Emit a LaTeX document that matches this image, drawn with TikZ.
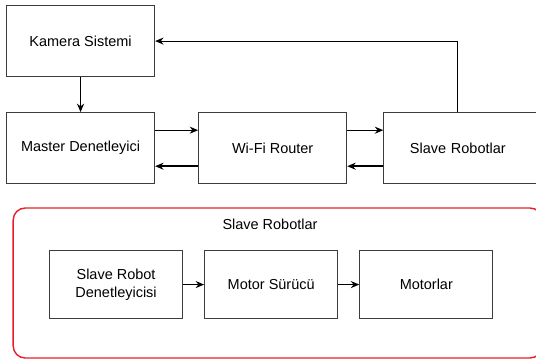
\documentclass[tikz,border=0pt]{standalone}
\usepackage{fontspec}
\setmainfont{Liberation Sans}
\usepackage{xcolor}
\usepackage{tikz}
\usetikzlibrary{arrows.meta, positioning}
\definecolor{edgegray}{RGB}{60, 60, 60}
\definecolor{framered}{RGB}{230, 30, 40}

\begin{document}
\begin{tikzpicture}[
      box/.style={
        rectangle, minimum width=3.7cm, minimum height=1.775cm,
        draw=edgegray, line width=0.8pt, font=\fontsize{10.3}{12.5}\selectfont, text=black,
        align=center, inner sep=2pt
      },
      subbox/.style={box, minimum width=3.325cm, minimum height=1.7cm},
      arr/.style={-{Stealth[length=6pt, width=5pt]}, line width=0.7pt, color=black},
      barr/.style={arr, line width=1.1pt}
  ]
    \useasboundingbox (0,0) rectangle (13.4,-9.025);

    \node[box, anchor=north west] (kam) at (0.15,-0.125) {Kamera Sistemi};
    \node[box] (mas)  [below=0.875cm of kam] {Master Denetleyici};
    \node[box] (wifi) [right=1.075cm of mas] {Wi-Fi Router};
    \node[box, minimum width=4.3cm, text width=3.3cm] (slv) [right=0.9cm of wifi] {Slave Robotlar\hspace*{0.6cm}};

    \draw[barr] (kam) -- (mas);
    \draw[arr]  ([yshift=0.45cm]mas.east)   -- ([yshift=0.45cm]wifi.west);
    \draw[barr] ([yshift=-0.45cm]wifi.west) -- ([yshift=-0.45cm]mas.east);
    \draw[arr]  ([yshift=0.45cm]wifi.east)  -- ([yshift=0.45cm]slv.west);
    \draw[barr] ([yshift=-0.45cm]slv.west)  -- ([yshift=-0.45cm]wifi.east);
    \draw[arr]  ([xshift=1.85cm]slv.north west) |- (kam.east);

    % slave robot detay
    \draw[framered, line width=1pt, rounded corners=0.3cm]
      (0.33,-5.2) rectangle (13.55,-8.95);
    \node[font=\fontsize{10.3}{12.5}\selectfont] (ttl) at (6.75,-5.62) {Slave Robotlar};

    \node[subbox, anchor=north west] (srd) at (1.225,-6.25) {Slave Robot\\Denetleyicisi};
    \node[subbox] (ms)  [right=0.525cm of srd] {Motor Sürücü};
    \node[subbox] (mot) [right=0.525cm of ms]  {Motorlar};

    \draw[barr] (srd) -- (ms);
    \draw[barr] (ms)  -- (mot);
  \end{tikzpicture}
\end{document}
